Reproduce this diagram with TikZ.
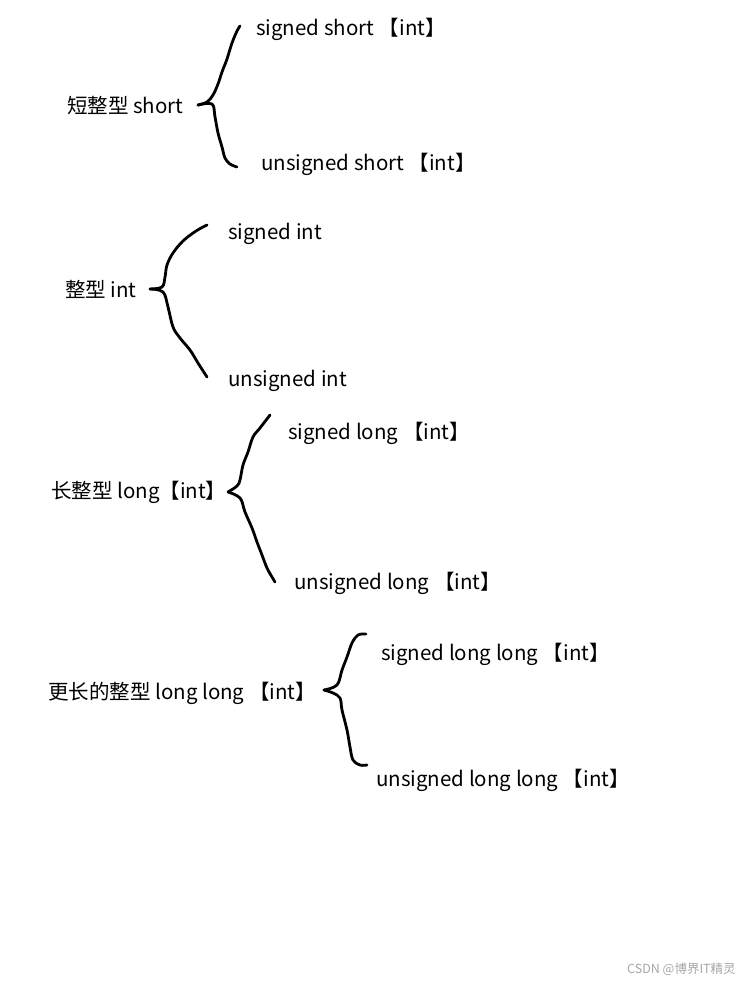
\documentclass[tikz,border=0pt]{standalone}
\usepackage{fontspec}
\setmainfont{Noto Sans CJK SC}
\usepackage{tikz}
\usetikzlibrary{positioning}

\begin{document}
\begin{tikzpicture}[
    x=1pt, y=-1pt,
    typetext/.style={anchor=west, inner sep=0pt, yshift=-5pt, text height=0.8em, text depth=0.2em, font=\fontsize{20.5}{24}\selectfont},
    wmark/.style={anchor=west, inner sep=0pt, text=black!35, font=\fontsize{12.5}{14}\selectfont},
    brace/.style={draw=black, line width=2.8pt, line cap=round, line join=round}
]
    \useasboundingbox (0,0) rectangle (748,982);

    % short
    \node [typetext] (short) at (67,105) {短整型 short};
    \node [typetext] (sshort) at (256,28) {signed short 【int】};
    \node [typetext] (ushort) at (261,162) {unsigned short 【int】};
    \coordinate (tip1) at (198,105);
    \coordinate (top1) at (240,26);
    \coordinate (bot1) at (237,167);
    \draw [brace] plot [smooth, tension=0.6] coordinates {(tip1) (207,102) (213,95) (218,84) (222,72) (227,59) (232,43) (237,31) (top1)};
    \draw [brace] plot [smooth, tension=0.6] coordinates {(tip1) (212,104) (215,117) (218,133) (222,147) (225,158) (230,164) (bot1)};

    % int
    \node [typetext] (int) at (65,289) {整型 int};
    \node [typetext] (sint) at (228,231) {signed int};
    \node [typetext] (uint) at (228,378) {unsigned int};
    \coordinate (tip2) at (150,289);
    \coordinate (top2) at (207,225);
    \coordinate (bot2) at (207,377);
    \draw [brace] plot [smooth, tension=0.6] coordinates {(tip2) (162,287) (165,277) (167,265) (173,253) (183,241) (196,231) (top2)};
    \draw [brace] plot [smooth, tension=0.6] coordinates {(tip2) (163,292) (168,307) (173,327) (180,338) (190,350) (198,363) (bot2)};

    % long
    \node [typetext] (long) at (51,490) {长整型 long【int】};
    \node [typetext] (slong) at (288,431) {signed long 【int】};
    \node [typetext] (ulong) at (294,581) {unsigned long 【int】};
    \coordinate (tip3) at (228,492);
    \coordinate (top3) at (270,415);
    \coordinate (bot3) at (275,582);
    \draw [brace] plot [smooth, tension=0.6] coordinates {(tip3) (237,486) (240,480) (243,465) (248,452) (253,437) (260,428) (top3)};
    \draw [brace] plot [smooth, tension=0.6] coordinates {(tip3) (240,498) (245,512) (252,528) (257,542) (262,555) (267,568) (272,577) (bot3)};

    % long long
    \node [typetext] (llong) at (48,691) {更长的整型 long long 【int】};
    \node [typetext] (sllong) at (381,652) {signed long long 【int】};
    \node [typetext] (ullong) at (376,778) {unsigned long long 【int】};
    \coordinate (tip4) at (324,690);
    \coordinate (top4) at (366,634);
    \coordinate (bot4) at (367,765);
    \draw [brace] plot [smooth, tension=0.6] coordinates {(tip4) (337,685) (342,670) (347,657) (352,643) (358,635) (top4)};
    \draw [brace] plot [smooth, tension=0.6] coordinates {(tip4) (333,693) (340,698) (342,710) (347,730) (350,747) (353,760) (360,765) (bot4)};

    \node [wmark] (csdn) at (627,969) {CSDN @博界IT精灵};
\end{tikzpicture}
\end{document}
